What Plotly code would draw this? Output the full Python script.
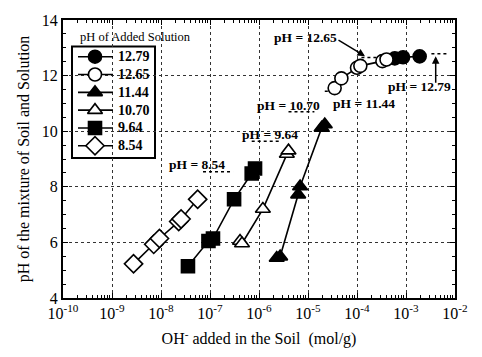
import plotly.graph_objects as go

# pH of the added solutions (legend labels and reference levels)
added_ph = ["12.79", "12.65", "11.44", "10.70", "9.64", "8.54"]

# OH- added in the soil (mol/g) and resulting pH of soil/solution mixture
oh_1279 = [5.9e-4, 8.7e-4, 1.9e-3]
ph_1279 = [12.62, 12.66, 12.69]

oh_1265 = [3.5e-5, 4.8e-5, 1.0e-4, 1.17e-4, 3.3e-4, 4.0e-4]
ph_1265 = [11.55, 11.90, 12.28, 12.35, 12.52, 12.58]

oh_1144 = [2.3e-6, 2.7e-6, 6.3e-6, 6.9e-6, 1.9e-5, 2.2e-5]
ph_1144 = [5.44, 5.49, 7.72, 8.01, 10.12, 10.24]

oh_1070 = [4.1e-7, 4.5e-7, 1.2e-6, 3.7e-6, 4.0e-6]
ph_1070 = [6.05, 5.96, 7.20, 9.18, 9.30]

oh_964 = [3.55e-8, 9.3e-8, 1.15e-7, 3.1e-7, 7.1e-7, 8.3e-7]
ph_964 = [5.14, 6.05, 6.14, 7.55, 8.48, 8.66]

oh_854 = [2.75e-9, 7.1e-9, 9.3e-9, 2.3e-8, 2.57e-8, 5.6e-8]
ph_854 = [5.23, 5.93, 6.14, 6.75, 6.84, 7.55]

x_exponents = [-10, -9, -8, -7, -6, -5, -4, -3, -2]
y_ticks = [4, 6, 8, 10, 12, 14]

FONT = "Liberation Serif, Times New Roman, serif"

# plot-area geometry in pixels (used to place the hand-drawn legend)
W, H = 482, 357
L, R, T, B = 63, 27, 15, 58
PW, PH = W - L - R, H - T - B


def px(x):
    return (x - L) / PW


def py(y):
    return (H - B - y) / PH


series = [
    (oh_1279, ph_1279, "circle", "black"),
    (oh_1265, ph_1265, "circle", "white"),
    (oh_1144, ph_1144, "triangle-up", "black"),
    (oh_1070, ph_1070, "triangle-up", "white"),
    (oh_964, ph_964, "square", "black"),
    (oh_854, ph_854, "diamond", "white"),
]

fig = go.Figure()

# short dashed segments marking the pH of each added solution
ref_spans = {
    "8.54": (7.2e-8, 2.95e-7),
    "9.64": (7.1e-7, 2.7e-6),
    "10.70": (4.0e-6, 1.35e-5),
    "11.44": (2.2e-5, 4.9e-5),
    "12.65": (1.23e-4, 4.7e-4),
    "12.79": (3.3e-3, 6.8e-3),
}
for lab, (xa, xb) in ref_spans.items():
    v = float(lab)
    fig.add_trace(go.Scatter(
        x=[xa, xb], y=[v, v], mode="lines", showlegend=False,
        line=dict(color="black", width=1.5, dash="3px,3px"), hoverinfo="skip"))


def marker_style(sym, fill):
    return dict(symbol=sym, size=14 if sym == "diamond" else 13,
                color=fill, line=dict(color="black", width=1.6))


for (xs, ys, sym, fill), lab in zip(series, added_ph):
    fig.add_trace(go.Scatter(
        x=xs, y=ys, mode="lines+markers", name=lab, showlegend=False,
        line=dict(color="black", width=1.6),
        marker=marker_style(sym, fill),
    ))

# legend drawn on an overlay axis spanning the plot area in 0..1 units
leg_x0, leg_x1, leg_y0, leg_y1 = 72, 155, 42, 156
row_y0, row_dy = 52.5, 18.2
annotations = []
for i, ((xs, ys, sym, fill), lab) in enumerate(zip(series, added_ph)):
    yy = py(row_y0 + i * row_dy)
    fig.add_trace(go.Scatter(
        x=[px(78), px(95), px(113)], y=[yy, yy, yy],
        xaxis="x2", yaxis="y2", mode="lines+markers", showlegend=False,
        line=dict(color="black", width=1.6),
        marker=dict(marker_style(sym, fill), opacity=1),
        hoverinfo="skip",
        selectedpoints=[1], unselected=dict(marker=dict(opacity=0)),
    ))
    annotations.append(dict(
        text=f"<b>{lab}</b>", x=px(116), y=yy, xref="paper", yref="paper",
        xanchor="left", yanchor="middle", showarrow=False,
        font=dict(family=FONT, size=14, color="black")))

shapes = [dict(type="rect", xref="paper", yref="paper",
               x0=px(leg_x0), x1=px(leg_x1), y0=py(leg_y1), y1=py(leg_y0),
               line=dict(color="black", width=2), fillcolor="white",
               layer="between")]

# text labels for the reference levels
labels = [
    ("pH = 8.54", 167, 163, "left"),
    ("pH = 9.64", 240, 132, "left"),
    ("pH = 10.70", 255, 102, "left"),
    ("pH = 11.44", 331, 100, "left"),
    ("pH = 12.65", 272, 33, "left"),
    ("pH = 12.79", 453, 83, "right"),
]
for t, x, y, anc in labels:
    annotations.append(dict(
        text=f"<b>{t}</b>", x=px(x), y=py(y), xref="paper", yref="paper",
        xanchor=anc, yanchor="middle", showarrow=False,
        font=dict(family=FONT, size=13.5, color="black")))
annotations.append(dict(text="pH of Added Solution", x=px(78), y=py(32),
                        xref="paper", yref="paper", xanchor="left",
                        yanchor="middle", showarrow=False,
                        font=dict(family=FONT, size=12.5, color="black")))
# arrows pointing to the 12.65 and 12.79 levels
annotations.append(dict(text="", x=px(365), y=py(52), xref="paper",
                        yref="paper", showarrow=True, ax=-28, ay=-17,
                        arrowhead=2, arrowsize=1, arrowwidth=1.5,
                        arrowcolor="black"))
annotations.append(dict(text="", x=px(435.7), y=py(52), xref="paper",
                        yref="paper", showarrow=True, ax=0, ay=28,
                        arrowhead=2, arrowsize=1, arrowwidth=1.5,
                        arrowcolor="black"))

minor_x = [m * 10.0 ** e for e in x_exponents[:-1] for m in range(2, 10)]

fig.update_layout(
    width=W, height=H,
    margin=dict(l=L, r=R, t=T, b=B),
    paper_bgcolor="white", plot_bgcolor="white",
    font=dict(family=FONT, color="black"),
    annotations=annotations, shapes=shapes, showlegend=False,
    xaxis=dict(
        type="log", range=[-10, -2],
        tickmode="array", tickvals=[10.0 ** e for e in x_exponents],
        ticktext=[f"10<sup>{e}</sup>" for e in x_exponents],
        ticks="inside", ticklen=5, tickcolor="black",
        showline=True, linecolor="black", linewidth=2, mirror="allticks",
        showgrid=True, gridcolor="#333", griddash="dot", gridwidth=1,
        zeroline=False,
        tickfont=dict(family=FONT, size=16, color="black"),
        minor=dict(tickvals=minor_x, ticks="inside", ticklen=3,
                   tickcolor="black", showgrid=False),
        title=dict(text="OH<sup>-</sup> added in the Soil \u00a0(mol/g)",
                   font=dict(family=FONT, size=16, color="black"),
                   standoff=12),
    ),
    yaxis=dict(
        range=[4, 14], tickmode="array", tickvals=y_ticks,
        ticks="inside", ticklen=5, tickcolor="black",
        showline=True, linecolor="black", linewidth=2, mirror="allticks",
        showgrid=True, gridcolor="#333", griddash="dot", gridwidth=1,
        zeroline=False,
        tickfont=dict(family=FONT, size=16, color="black"),
        minor=dict(dtick=0.5, ticks="inside", ticklen=3,
                   tickcolor="black", showgrid=False),
        title=dict(text="pH of the mixture of Soil and Solution",
                   font=dict(family=FONT, size=16, color="black"),
                   standoff=8),
    ),
    xaxis2=dict(overlaying="x", range=[0, 1], visible=False, fixedrange=True),
    yaxis2=dict(overlaying="y", range=[0, 1], visible=False, fixedrange=True),
)

fig.write_html("out.html")
